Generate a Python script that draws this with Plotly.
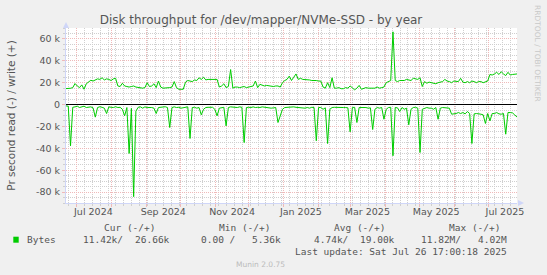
import pandas as pd
import plotly.graph_objects as go

# ---------------- data ----------------
start = "2024-06-21 17:00"
end = "2025-07-26 17:00"
dates = pd.date_range(start, periods=201, freq="2D")

# write (+), kB/s, every 2 days
write_k = [
    14.6, 14.6, 14.9, 15.5, 19.2, 17.0, 15.5, 18.0, 14.0, 19.0,
    20.5, 22.2, 21.5, 22.5, 23.5, 23.0, 24.5, 22.5, 23.5, 23.0,
    22.0, 23.5, 24.0, 17.0, 16.5, 19.5, 17.0, 16.5, 16.0, 16.5,
    17.0, 16.0, 15.5, 15.0, 15.0, 15.5, 20.0, 16.5, 17.0, 19.0,
    15.5, 21.5, 16.0, 15.0, 15.0, 15.0, 15.5, 16.0, 21.0, 15.5,
    14.0, 14.0, 14.0, 20.5, 22.0, 21.5, 21.0, 22.5, 22.0, 24.5,
    23.0, 25.0, 22.5, 23.0, 23.0, 23.0, 23.0, 23.0, 16.0, 17.0,
    19.0, 15.5, 16.5, 32.0, 15.0, 16.0, 16.0, 15.5, 16.0, 16.5,
    15.5, 16.0, 16.0, 17.0, 21.5, 15.5, 18.5, 17.5, 17.0, 17.5,
    17.0, 17.0, 16.5, 17.0, 17.0, 16.0, 20.0, 22.0, 23.0, 26.0,
    22.0, 25.0, 28.0, 23.0, 24.0, 23.0, 23.0, 23.0, 22.5, 22.0,
    22.2, 22.0, 21.5, 21.5, 16.0, 15.0, 20.0, 15.5, 24.5, 15.0,
    15.0, 15.5, 14.5, 14.5, 15.5, 15.0, 17.0, 15.0, 13.5, 15.0,
    17.5, 14.0, 15.0, 15.5, 15.0, 15.0, 15.5, 15.0, 16.0, 15.0,
    15.5, 16.0, 20.0, 21.0, 22.0, 66.5, 22.0, 21.0, 22.0, 22.0,
    22.0, 23.0, 22.5, 22.0, 24.0, 23.5, 23.0, 24.5, 16.5, 21.0,
    19.5, 20.5, 20.0, 19.5, 19.0, 20.0, 20.5, 21.0, 23.0, 21.5,
    21.0, 20.0, 21.5, 21.0, 21.0, 24.0, 20.5, 20.0, 21.0, 20.0,
    21.5, 21.0, 20.0, 21.0, 21.0, 20.0, 21.0, 21.5, 27.5, 27.0,
    28.0, 29.5, 27.5, 30.0, 28.0, 26.5, 29.5, 27.0, 27.5, 27.5,
    28.0,
]

# read (-), kB/s, every 2 days
read_k = [
    -1.2, -1.5, -37.7, -2.5, -2.1, -1.5, -2.7, -2.0, -1.5, -2.7,
    -2.5, -2.1, -3.0, -11.5, -2.7, -2.0, -2.5, -3.3, -8.2, -2.1,
    -2.5, -2.7, -2.0, -2.7, -2.5, -4.3, -10.3, -2.7, -44.7, -3.5,
    -84.2, -6.0, -2.5, -2.1, -3.3, -2.1, -2.7, -2.5, -2.7, -3.3,
    -8.2, -2.7, -2.5, -2.7, -2.0, -2.7, -21.0, -2.7, -2.1, -2.7,
    -2.5, -3.3, -2.7, -2.5, -2.1, -31.0, -2.7, -2.5, -3.3, -2.7,
    -9.4, -4.3, -2.7, -2.5, -2.7, -2.5, -4.3, -10.3, -3.3, -2.7,
    -2.5, -19.5, -2.7, -2.1, -2.5, -2.7, -2.7, -2.1, -2.5, -34.7,
    -2.7, -2.5, -2.7, -2.1, -2.7, -2.5, -2.7, -2.1, -2.5, -2.7,
    -2.7, -3.3, -3.0, -2.7, -16.4, -10.3, -4.3, -2.7, -2.5, -2.7,
    -2.7, -2.1, -2.5, -2.7, -2.7, -3.3, -3.3, -2.7, -3.3, -2.5,
    -2.7, -33.1, -2.7, -2.7, -4.3, -3.0, -35.6, -4.3, -2.7, -2.5,
    -2.7, -2.7, -2.5, -2.7, -2.7, -3.0, -24.9, -2.7, -2.5, -16.4,
    -2.7, -2.5, -2.7, -2.7, -3.3, -3.0, -22.8, -4.3, -2.7, -3.3,
    -2.7, -13.4, -4.3, -2.7, -2.5, -46.8, -2.7, -3.0, -6.4, -2.7,
    -4.3, -3.3, -18.5, -4.3, -2.7, -2.5, -3.3, -43.8, -4.3, -3.3,
    -2.7, -3.3, -3.3, -4.3, -2.7, -13.4, -3.3, -2.7, -2.7, -2.7,
    -3.3, -8.8, -8.8, -8.2, -7.3, -8.2, -7.3, -8.5, -6.4, -8.2,
    -35.6, -8.5, -8.2, -8.2, -8.8, -9.4, -17.3, -8.2, -14.9, -8.2,
    -8.2, -7.3, -8.5, -8.8, -8.2, -27.1, -7.3, -7.3, -7.6, -9.5,
    -11.4,
]

write_vals = [v * 1000 for v in write_k]
read_vals = [v * 1000 for v in read_k]

y_ticks = [-80000, -60000, -40000, -20000, 0, 20000, 40000, 60000]
y_text = ["-80 k", "-60 k", "-40 k", "-20 k", "0", "20 k", "40 k", "60 k"]

label_dates = ["2024-07-16", "2024-09-16", "2024-11-16", "2025-01-16",
               "2025-03-16", "2025-05-16", "2025-07-16"]
label_text = ["Jul 2024", "Sep 2024", "Nov 2024", "Jan 2025",
              "Mar 2025", "May 2025", "Jul 2025"]
month_starts = [d.strftime("%Y-%m-%d") for d in pd.date_range("2024-07-01", "2025-07-01", freq="MS")]

title = "Disk throughput for /dev/mapper/NVMe-SSD - by year"
ytitle = "Pr second read (-) / write (+)"

# ---------------- style ----------------
W, H = 547, 275
L, R, T, B = 66, 30, 28, 72
PW, PH = W - L - R, H - T - B
GREEN = "#00cc00"
FONT = "DejaVu Sans"
MONO = "DejaVu Sans Mono"
TXT = "#555555"
AXIS = "#CFD6F8"
MGRID = "#efb9b9"
GRID = "#cfcfcf"


def px(x):
    return (x - L) / PW


def py(y):
    return (T + PH - y) / PH


fig = go.Figure()
fig.add_trace(go.Scatter(x=dates, y=write_vals, mode="lines",
                         line=dict(color=GREEN, width=1), hoverinfo="skip",
                         showlegend=False))
fig.add_trace(go.Scatter(x=dates, y=read_vals, mode="lines", xaxis="x2",
                         line=dict(color=GREEN, width=1), hoverinfo="skip",
                         showlegend=False))

xrange = [start, end]
fig.update_layout(
    width=W, height=H,
    margin=dict(l=L, r=R, t=T, b=B, pad=0),
    paper_bgcolor="#f0f0f0", plot_bgcolor="#ffffff",
    font=dict(family=FONT, color=TXT, size=10),
    title=dict(text=title, x=261 / W, xref="container", xanchor="center",
               y=1 - 19.5 / H, yref="container", yanchor="middle",
               font=dict(family=FONT, size=12, color=TXT)),
    xaxis=dict(type="date", range=xrange, tickmode="array",
               tickvals=label_dates, ticktext=label_text, ticks="",
               showgrid=False, zeroline=False, showline=True,
               linecolor=AXIS, linewidth=1,
               tickfont=dict(family=FONT, size=9.5, color=TXT),
               minor=dict(dtick=7 * 86400000, tick0="2024-06-24",
                          showgrid=True, gridcolor=GRID, griddash="1px,1px",
                          gridwidth=1, ticks="outside", ticklen=2,
                          tickcolor=GRID)),
    xaxis2=dict(type="date", range=xrange, overlaying="x", anchor="y",
                side="bottom", tickmode="array", tickvals=month_starts,
                showticklabels=False, ticks="outside", ticklen=3,
                tickcolor=MGRID, showgrid=True, gridcolor=MGRID,
                griddash="1px,1px", gridwidth=1, zeroline=False,
                showline=False),
    yaxis=dict(range=[-90000, 70000], tickmode="array", tickvals=y_ticks,
               ticktext=y_text, showgrid=True, gridcolor=MGRID,
               griddash="1px,1px", gridwidth=1, zeroline=True,
               zerolinecolor="#000000", zerolinewidth=1, showline=True,
               linecolor=AXIS, linewidth=1, ticks="outside", ticklen=3,
               tickcolor=MGRID,
               tickfont=dict(family=FONT, size=9.5, color=TXT),
               title=dict(text=ytitle, standoff=18,
                          font=dict(family=FONT, size=10.5, color=TXT)),
               minor=dict(dtick=5000, tick0=0, showgrid=True,
                          gridcolor=GRID, griddash="1px,1px", gridwidth=1,
                          ticks="outside", ticklen=2, tickcolor=GRID)),
)

# axis arrows
fig.add_shape(type="path", xref="paper", yref="paper",
              path=f"M {px(63)},{py(28)} L {px(66)},{py(22)} L {px(69)},{py(28)} Z",
              fillcolor=AXIS, line=dict(width=0))
fig.add_shape(type="path", xref="paper", yref="paper",
              path=f"M {px(518)},{py(200)} L {px(524)},{py(203)} L {px(518)},{py(206)} Z",
              fillcolor=AXIS, line=dict(width=0))

# legend square
fig.add_shape(type="rect", xref="paper", yref="paper",
              x0=px(13.3), x1=px(18.7), y0=py(242.7), y1=py(236.7),
              fillcolor=GREEN, line=dict(width=0))


def note(text, x, y, anchor="right", size=9.5, color=TXT, family=MONO, angle=0):
    fig.add_annotation(text=text, x=px(x), y=py(y), xref="paper", yref="paper",
                       xanchor=anchor, yanchor="middle", showarrow=False,
                       textangle=angle,
                       font=dict(family=family, size=size, color=color))


# table header
note("Cur (-/+)", 157, 227.5)
note("Min (-/+)", 272, 227.5)
note("Avg (-/+)", 387, 227.5)
note("Max (-/+)", 502, 227.5)
# data row
note("Bytes", 25, 239.8, anchor="left")
note("11.42k/", 125, 239.8)
note("26.66k", 172, 239.8)
note("0.00 /", 237, 239.8)
note("5.36k", 283, 239.8)
note("4.74k/", 350, 239.8)
note("19.00k", 397, 239.8)
note("11.82M/", 463, 239.8)
note("4.02M", 509, 239.8)
note("Last update: Sat Jul 26 17:00:18 2025", 509, 251.8)
note("Munin 2.0.75", 260.5, 264, anchor="center", size=7.5, color="#bbbbbb",
     family=FONT)
note("RRDTOOL / TOBI OETIKER", 538, 53, anchor="center", size=7.5,
     color="#c8c8c8", family=FONT, angle=90)

fig.write_html("out.html")
